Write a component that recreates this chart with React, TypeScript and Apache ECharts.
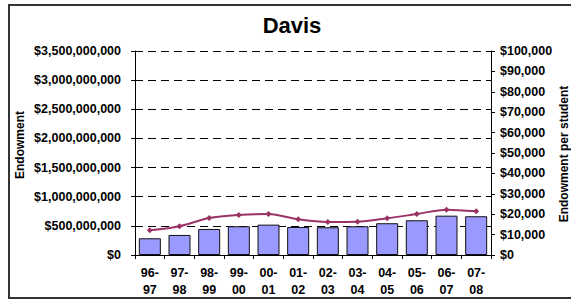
import React, { useEffect, useRef } from "react";
import * as echarts from "echarts";

const categories = ["96-\n97", "97-\n98", "98-\n99", "99-\n00", "00-\n01", "01-\n02", "02-\n03", "03-\n04", "04-\n05", "05-\n06", "06-\n07", "07-\n08"];
const endowment = [287e6, 344e6, 447e6, 493e6, 521e6, 481e6, 476e6, 493e6, 545e6, 596e6, 675e6, 665e6];
const perStudent = [12100, 14100, 18100, 19600, 20100, 17500, 16200, 16300, 18000, 20100, 22200, 21400];
const titleText = "Davis";
const leftAxisTitle = "Endowment";
const rightAxisTitle = "Endowment per student";

const FONT = "'Liberation Sans', Arial, sans-serif";
const money = (v: number) => "$" + Math.round(v).toLocaleString("en-US");

export default function App() {
  const ref = useRef<HTMLDivElement>(null);
  useEffect(() => {
    if (!ref.current) return;
    const chart = echarts.init(ref.current, undefined, { renderer: "svg" });
    const labelStyle = { color: "#000", fontWeight: "bold" as const, fontSize: 12.5, fontFamily: FONT };
    chart.setOption({
      animation: false,
      backgroundColor: "#fff",
      grid: { left: 135, right: 80, top: 51, bottom: 46 },
      xAxis: {
        type: "category",
        data: categories,
        boundaryGap: true,
        axisLine: { lineStyle: { color: "#000", width: 1 } },
        axisTick: { show: true, length: 4, lineStyle: { color: "#000" } },
        axisLabel: { ...labelStyle, margin: 9, lineHeight: 17, interval: 0 },
      },
      yAxis: [
        {
          type: "value",
          min: 0,
          max: 3.5e9,
          interval: 5e8,
          axisLine: { show: true, lineStyle: { color: "#000", width: 1 } },
          axisTick: { show: true, length: 4, lineStyle: { color: "#000" } },
          axisLabel: { ...labelStyle, margin: 14, formatter: money },
          splitLine: { show: true, lineStyle: { color: "#000", width: 1, type: [8, 5] } },
        },
        {
          type: "value",
          min: 0,
          max: 100000,
          interval: 10000,
          position: "right",
          axisLine: { show: true, lineStyle: { color: "#000", width: 1 } },
          axisTick: { show: true, length: 4, lineStyle: { color: "#000" } },
          axisLabel: { ...labelStyle, margin: 9, formatter: money },
          splitLine: { show: false },
        },
      ],
      series: [
        {
          type: "bar",
          data: endowment,
          yAxisIndex: 0,
          barWidth: 22,
          itemStyle: { color: "#9999FF", borderColor: "#111", borderWidth: 1 },
        },
        {
          type: "line",
          data: perStudent,
          yAxisIndex: 1,
          smooth: 0.3,
          symbol: "diamond",
          symbolSize: 6,
          lineStyle: { color: "#993366", width: 2 },
          itemStyle: { color: "#993366" },
        },
      ],
      graphic: [
        {
          type: "rect",
          shape: { x: 9, y: 5, width: 600, height: 293 },
          style: { fill: "none", stroke: "#333", lineWidth: 2 },
          silent: true,
        },
        {
          type: "text",
          x: 292,
          y: 25,
          style: { text: titleText, font: `bold 22px ${FONT}`, fill: "#000", textAlign: "center", textVerticalAlign: "middle" },
        },
        {
          type: "text",
          x: 20,
          y: 145,
          rotation: Math.PI / 2,
          style: { text: leftAxisTitle, font: `bold 12px ${FONT}`, fill: "#000", textAlign: "center", textVerticalAlign: "middle" },
        },
        {
          type: "text",
          x: 564,
          y: 154,
          rotation: Math.PI / 2,
          style: { text: rightAxisTitle, font: `bold 12px ${FONT}`, fill: "#000", textAlign: "center", textVerticalAlign: "middle" },
        },
      ],
    });
    return () => chart.dispose();
  }, []);
  return <div ref={ref} style={{ position: "fixed", left: 0, top: 0, width: 571, height: 301, background: "#fff" }} />;
}
